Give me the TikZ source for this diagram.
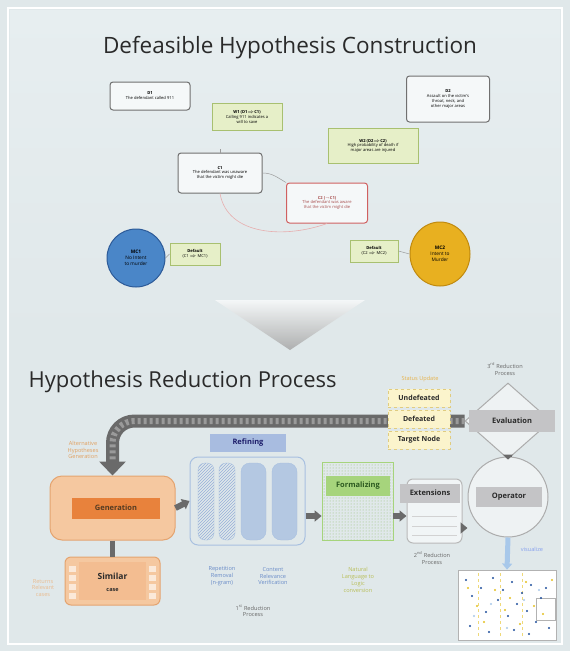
\documentclass[tikz,border=0pt]{standalone}
\usepackage{fontspec}
\setmainfont{Open Sans}
\usetikzlibrary{patterns,arrows.meta,shapes.geometric,calc}

\definecolor{bgcol}{HTML}{E0E8EA}
\definecolor{bgtop}{HTML}{E7EEF0}
\definecolor{titlecol}{HTML}{2A2A2A}
\definecolor{boxline}{HTML}{707070}
\definecolor{wfill}{HTML}{E6EFC8}
\definecolor{wline}{HTML}{A8C070}
\definecolor{redline}{HTML}{D06060}
\definecolor{mcblue}{HTML}{4A86C8}
\definecolor{mcblueline}{HTML}{2C5A98}
\definecolor{mcgold}{HTML}{E8B020}
\definecolor{mcgoldline}{HTML}{C08A10}
\definecolor{genfill}{HTML}{F5C8A0}
\definecolor{genline}{HTML}{E4A470}
\definecolor{genband}{HTML}{E8823C}
\definecolor{orangetext}{HTML}{E0A060}
\definecolor{refband}{HTML}{A8BCE0}
\definecolor{refline}{HTML}{A8C0E0}
\definecolor{pill}{HTML}{B4C8E2}
\definecolor{bluetext}{HTML}{6A8CC8}
\definecolor{formfill}{HTML}{DCEEC4}
\definecolor{formband}{HTML}{A6D47C}
\definecolor{formtext}{HTML}{2C5A20}
\definecolor{natural}{HTML}{B8BE58}
\definecolor{statfill}{HTML}{FBF4CC}
\definecolor{statline}{HTML}{E0CC80}
\definecolor{fatgray}{HTML}{6A6A6A}
\definecolor{fatlight}{HTML}{9A9A9A}
\definecolor{bandgray}{HTML}{C4C4C6}
\definecolor{visblue}{HTML}{A8C8EA}
\definecolor{dotblue}{HTML}{1F4E9C}
\definecolor{dotgold}{HTML}{E4C020}

\begin{document}
\begin{tikzpicture}[x=1pt,y=-1pt,
  tbox/.style={draw=boxline, rounded corners=3, fill=bgtop!40!white, line width=1,
    align=center, font=\fontsize{4.1}{4.9}\selectfont, inner sep=1.5},
  wbox/.style={draw=wline, fill=wfill, line width=0.9, align=center,
    font=\fontsize{4.1}{4.9}\selectfont, inner sep=1.5},
  mcnode/.style={align=center, font=\fontsize{4.8}{5.8}\selectfont, inner sep=0},
  thinlink/.style={draw=boxline!70, line width=0.5},
  fat/.style={draw=fatgray, line width=6, -{Triangle[length=7pt,width=11pt]}},
  band/.style={fill=bandgray, font=\bfseries\fontsize{7.5}{9}\selectfont, text=titlecol, inner sep=0},
  small/.style={align=center, font=\fontsize{5.6}{6.8}\selectfont},
  statusbox/.style={draw=statline, dashed, line width=0.5, fill=statfill,
    font=\bfseries\fontsize{7}{8}\selectfont, text=titlecol,
    minimum width=62, minimum height=18, inner sep=0},
  pillhatch/.style={rounded corners=7, draw=refline, pattern=north east lines, pattern color=bluetext!70},
  pillsolid/.style={rounded corners=9, fill=pill, draw=refline}
]
\useasboundingbox (0,0) rectangle (570,651);
\fill[bgcol] (0,0) rectangle (570,651);
\shade[top color=bgtop, bottom color=bgcol] (10,10) rectangle (560,340);
\draw[white, line width=1.2] (8,8) rectangle (562,644);

% ---------------- upper panel: argument graph ----------------
\node[font=\fontsize{22.5}{26}\selectfont, text=titlecol] (title1) at (290,48) {Defeasible Hypothesis Construction};

\node[tbox, minimum width=80, minimum height=28] (d1) at (150,96)
  {\textbf{D1}\\The defendant called 911};
\node[wbox, minimum width=70, minimum height=27] (w1) at (247,117)
  {\textbf{W1 (D1$\Rightarrow$C1)}\\Calling 911 indicates a\\will to save};
\node[tbox, minimum width=83, minimum height=46] (d2) at (448,99)
  {\textbf{D2}\\Assault on the victim's\\throat, neck, and\\other major areas};
\node[wbox, minimum width=90, minimum height=35] (w2) at (373,146)
  {\textbf{W2 (D2$\Rightarrow$C2)}\\High probability of death if\\major areas are injured};
\node[tbox, minimum width=84, minimum height=40] (c1) at (220,173)
  {\textbf{C1}\\The defendant was unaware\\that the victim might die};
\node[tbox, draw=redline, minimum width=81, minimum height=40, text=redline!80!black] (c2) at (327,203)
  {\textbf{C2 ($\neg$C1)}\\The defendant was aware\\that the victim might die};

\node[circle, draw=mcblueline, fill=mcblue, line width=1, minimum size=58, mcnode] (mc1) at (136,258)
  {\textbf{MC1}\\No Intent\\to murder};
\node[ellipse, draw=mcgoldline, fill=mcgold, line width=1, minimum width=60, minimum height=64, mcnode] (mc2) at (440,254)
  {\textbf{MC2}\\Intent to\\Murder};
\node[wbox, minimum width=50, minimum height=22] (def1) at (195,254)
  {\textbf{Default}\\(C1 $\Rightarrow$ MC1)};
\node[wbox, minimum width=48, minimum height=22] (def2) at (374,251)
  {\textbf{Default}\\(C2 $\Rightarrow$ MC2)};

\draw[thinlink] (c1.north) -- ++(0,-4);
\draw[thinlink] (c1.east) to[out=0,in=150] (c2.north west);
\draw[draw=redline!50, line width=0.6] (c1.south) to[out=-80,in=200] (c2.south);
\draw[thinlink] (mc1.east) -- (def1.west);
\draw[thinlink] (def2.east) -- (mc2.west);

% transition chevron
\shade[top color=bgtop!30!white, bottom color=gray!70, opacity=0.85]
  (215,300) -- (365,300) -- (290,350) -- cycle;

% ---------------- lower panel: reduction pipeline ----------------
\node[anchor=west, font=\fontsize{22}{26}\selectfont, text=titlecol] (title2) at (25,382) {Hypothesis Reduction Process};

% generation
\node[draw=genline, fill=genfill, rounded corners=12, minimum width=125, minimum height=64, line width=1] (gen) at (112.5,508) {};
\node[fill=genband, minimum width=88, minimum height=21, font=\bfseries\fontsize{7.5}{9}\selectfont, text=titlecol!80!orange] (genlbl) at (116,508) {Generation};
\node[small, text=orangetext, anchor=east] (altlbl) at (102,450) {Alternative\\Hypotheses\\Generation};

% similar case
\node[draw=genline, fill=genfill, rounded corners=6, minimum width=95, minimum height=48, line width=1] (sim) at (112.5,581) {};
\foreach \yy in {566,575,584,593}{
  \fill[white!60!genfill] (69,\yy) rectangle (76,\yy+6);
  \fill[white!60!genfill] (149,\yy) rectangle (156,\yy+6);
}
\fill[genfill!85!genband] (79,562) rectangle (146,600);
\node[font=\bfseries\fontsize{8.5}{10}\selectfont, text=titlecol] (simtxt) at (112.5,576) {Similar};
\node[font=\bfseries\fontsize{5.5}{6.5}\selectfont, text=titlecol] (simtxt2) at (112.5,590) {case};
\node[small, text=orangetext!70] (retlbl) at (43,588) {Returns\\Relevant\\cases};
\draw[draw=fatgray, line width=5] (gen.south) -- (sim.north);

% refining
\node[draw=refline, rounded corners=8, minimum width=115, minimum height=88, line width=1] (ref) at (247.5,501) {};
\node[fill=refband, minimum width=76, minimum height=18, font=\bfseries\fontsize{7.5}{9}\selectfont, text=titlecol!70!blue] (reflbl) at (248,443) {Refining};
\draw[pillhatch] (198,463) rectangle (214,540);
\draw[pillhatch] (219,463) rectangle (235,540);
\draw[pillsolid] (241,463) rectangle (266,540);
\draw[pillsolid] (272,463) rectangle (297,540);
\node[small, text=bluetext] (replbl) at (222,576) {Repetition\\Removal\\(n-gram)};
\node[small, text=bluetext] (conlbl) at (273,576) {Content\\Relevance\\Verification};
\node[small, text=gray!80!black] (red1) at (253,611) {1\textsuperscript{st} Reduction\\Process};

% formalizing
\node[draw=formband, pattern=dots, pattern color=formband!90!black, minimum width=71, minimum height=78, line width=0.8] (form) at (357.5,501) {};
\node[fill=formband, minimum width=64, minimum height=20, font=\bfseries\fontsize{7.5}{9}\selectfont, text=formtext] (formlbl) at (358,486) {Formalizing};
\node[small, text=natural] (natlbl) at (358,580) {Natural\\Language to\\Logic\\conversion};

% extensions
\node[draw=gray!55, fill=white!55!bgcol, rounded corners=6, minimum width=55, minimum height=64, line width=1] (ext) at (434.5,511) {};
\foreach \yy in {516,526,535}{\draw[gray!35, line width=0.5] (412,\yy) -- (457,\yy);}
\node[band, minimum width=60, minimum height=19] (extlbl) at (430,493) {Extensions};
\node[small, text=gray!80!black] (red2) at (432,558) {2\textsuperscript{nd} Reduction\\Process};

% evaluation and operator
\node[circle, draw=gray!65, fill=white!45!bgcol, line width=1, minimum size=80] (op) at (508,497) {};
\node[band, minimum width=66, minimum height=20] (oplbl) at (509,497) {Operator};
\node[diamond, draw=gray!65, fill=white!45!bgcol, line width=1, minimum width=86, minimum height=76, aspect=1.1, inner sep=0] (eval) at (508,421) {};
\node[band, minimum width=86, minimum height=22] (evlbl) at (512,421) {Evaluation};
\node[small, text=gray!80!black] (red3) at (505,369) {3\textsuperscript{rd} Reduction\\Process};

% pipeline arrows
\draw[fat] (gen.east) -- (ref.west);
\draw[fat] (ref.east |- 0,516) -- (form.west |- 0,516);
\draw[fat] (form.east |- 0,516) -- (ext.west |- 0,516);
\draw[fat] (ext.east |- 0,528) -- (op.west |- 0,528);
\draw[draw=fatgray, line width=7, -{Triangle[length=5pt,width=10pt]}] (op.north) -- (eval.south);

% feedback loop from evaluation back to generation
\draw[draw=fatgray, line width=13, rounded corners=22, -{Triangle[length=14pt,width=26pt]}]
  (eval.west) -| (gen.north);
\draw[draw=fatlight, line width=6, rounded corners=22, dash pattern=on 3pt off 3pt, shorten >=14pt]
  (eval.west) -| (gen.north);

% status labels on the loop
\node[small, text=orangetext!80!yellow] (statlbl) at (420,379) {Status Update};
\node[statusbox] (und) at (419,398) {Undefeated};
\node[statusbox] (dft) at (419,419) {Defeated};
\node[statusbox] (tgt) at (419,440) {Target Node};

% visualisation
\node[draw=gray!60, fill=white, minimum width=98, minimum height=70, line width=0.8] (plot) at (507,605) {};
\draw[draw=visblue, line width=5, -{Triangle[length=6pt,width=10pt]}] (op.south) -- (plot.north);
\node[small, text=visblue!80!blue] (vislbl) at (532,549) {visualize};
\draw[gray!60, line width=0.4] (536,598) rectangle (555,620);
\foreach \xx in {478,500,522}{\draw[dotgold!60, line width=0.4, dashed] (\xx,573) -- (\xx,638);}
\foreach \px/\py in {466/580,472/596,481/588,486/612,493/578,498/600,503/590,508/616,512/582,517/604,
  522/593,527/611,531/585,536/622,541/598,546/588,549/628,470/626,489/632,514/630,529/634}
  {\fill[dotblue] (\px,\py) circle (1.1);}
\foreach \px/\py in {468/588,477/606,484/622,495/590,505/610,510/598,520/624,526/582,534/606,543/614,552/580}
  {\fill[dotgold] (\px,\py) circle (1.1);}
\foreach \px/\py in {474/616,491/604,507/628,524/600,539/590}
  {\fill[visblue] (\px,\py) circle (1.2);}

\end{tikzpicture}
\end{document}
